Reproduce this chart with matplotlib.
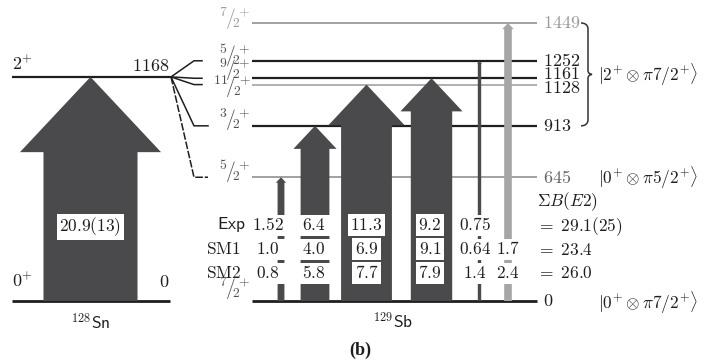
import matplotlib
matplotlib.use("Agg")
import matplotlib.pyplot as plt
from matplotlib.patches import Polygon, Rectangle, PathPatch
from matplotlib.path import Path
from matplotlib.transforms import Affine2D

plt.rcParams["mathtext.fontset"] = "cm"

# ---- level schemes (energies in keV) ----
sn_levels = [0, 1168]
sn_spins = ["0", "2"]
sn_be2 = 20.9
sn_be2_label = "20.9(13)"

sb_levels = [0, 645, 913, 1128, 1161, 1252, 1449]
sb_spins = ["7/2", "5/2", "3/2", "11/2", "9/2", "5/2", "7/2"]

# 7/2+ ground state -> excited states, B(E2) values
sb_final = [645, 913, 1128, 1161, 1252, 1449]
be2_exp = [1.52, 6.4, 11.3, 9.2, 0.75, None]
be2_sm1 = [1.0, 4.0, 6.9, 9.1, 0.64, 1.7]
be2_sm2 = [0.8, 5.8, 7.7, 7.9, 1.4, 2.4]
exp_text = ["1.52", "6.4", "11.3", "9.2", "0.75", ""]
sm1_text = ["1.0", "4.0", "6.9", "9.1", "0.64", "1.7"]
sm2_text = ["0.8", "5.8", "7.7", "7.9", "1.4", "2.4"]
row_names = ["Exp", "SM1", "SM2"]
sum_text = ["29.1(25)", "23.4", "26.0"]

W, H = 711, 363
fig = plt.figure(figsize=(W / 100, H / 100), dpi=100)
ax = fig.add_axes([0, 0, 1, 1])
ax.axis("off")

# vertical scale: keV -> pixel rows (ground state at row 301)
Y0 = 301.0
PX_PER_KEV = (301.0 - 23.0) / 1449.0
KEV_PER_PX = 1.0 / PX_PER_KEV
ax.set_xlim(0, W)
ax.set_ylim((Y0 - H) * KEV_PER_PX, Y0 * KEV_PER_PX)

# pixel-space transform for annotations
pix = Affine2D().scale(1.0 / W, -1.0 / H).translate(0, 1) + ax.transAxes

DARK = "#4a4a4c"
GREY = "#a6a6a9"
INK = "#1e1e1e"
LGREY = "#9a9a9a"
WIDTH_PER_BE2 = 4.5  # px of shaft width per W.u.


def up_arrow(xc, e_from, e_to, be2, color, z=3):
    w = WIDTH_PER_BE2 * be2
    hw = 0.75 * w
    hl = 0.8 * w * KEV_PER_PX
    pts = [(xc - w / 2, e_from), (xc - w / 2, e_to - hl), (xc - hw, e_to - hl),
           (xc, e_to), (xc + hw, e_to - hl), (xc + w / 2, e_to - hl),
           (xc + w / 2, e_from)]
    ax.add_patch(Polygon(pts, closed=True, facecolor=color, edgecolor="none",
                         zorder=z))
    return w


def T(x, y, s, **kw):
    kw.setdefault("color", INK)
    kw.setdefault("va", "center")
    return ax.text(x, y, s, transform=pix, **kw)


def spin(label):
    num, den = label.split("/")
    return r"${}^{%s}\!/\!{}_{%s}\!{}^{+}$" % (num, den)


# ---- 128Sn ----
for e in sn_levels:
    ax.plot([12, 170], [e, e], color=INK, lw=1.6 if e else 2.0,
            solid_capstyle="butt", zorder=2)
up_arrow(90.5, sn_levels[0], sn_levels[1], sn_be2, DARK)
T(90.5, 227, r"$\mathsf{%s}$" % sn_be2_label, ha="center", fontsize=12.5,
  bbox=dict(facecolor="white", edgecolor="none", pad=1.5), zorder=6)
T(12, 65, r"$%s^{+}$" % sn_spins[1], ha="left", fontsize=13)
T(169, 66, r"$\mathsf{%d}$" % sn_levels[1], ha="right", fontsize=13)
T(12, 282, r"$%s^{+}$" % sn_spins[0], ha="left", fontsize=13)
T(169, 282, r"$\mathsf{%d}$" % sn_levels[0], ha="right", fontsize=13)
T(91, 323, r"$^{128}\mathsf{Sn}$", ha="center", fontsize=12.5)

# ---- 129Sb levels ----
grey_levels = {645, 1128, 1449}
for e in sb_levels:
    if e == 0:
        c, lw = INK, 2.0
    elif e in grey_levels:
        c, lw = LGREY, 1.3 if e != 1128 else 1.1
    else:
        c, lw = INK, 1.6
    ax.plot([252, 537], [e, e], color=c, lw=lw, solid_capstyle="butt",
            zorder=2)

spin_rows = [289, 172, 120, 87, 70, 56, 19]
energy_rows = [301, 178, 126, 88, 74, 61, 23]
for e, s, ys, ye in zip(sb_levels, sb_spins, spin_rows, energy_rows):
    col = LGREY if e == 1449 else "#505050"
    T(251, ys, spin(s), ha="right", fontsize=14, color=col)
    ecol = LGREY if e == 1449 else ("#666666" if e == 645 else INK)
    T(543, ye, r"$\mathsf{%d}$" % e, ha="left", fontsize=13, color=ecol)

# ---- fan of lines from the 2+ core state to the multiplet ----
fan_ends = {1252: 202, 1161: 202, 1128: 202, 913: 208, 645: 208}
for e, xe in fan_ends.items():
    ls = (0, (5, 1.2)) if e == 645 else "-"
    ax.plot([171, 194, xe], [sn_levels[1], e, e], color=INK, lw=1.1,
            linestyle=ls, zorder=2)

# ---- transitions in 129Sb ----
arrow_x = [281, 315, 366.5, 431.5, 479.5, 508]
text_x = [268, 314, 366.5, 430, 475, 508]
row_y = [225, 249, 273]
band_half = 10.5
for i, ef in enumerate(sb_final):
    val = be2_exp[i] if be2_exp[i] is not None else be2_sm1[i]
    color = DARK if be2_exp[i] is not None else GREY
    w = up_arrow(arrow_x[i], 0, ef, val, color)
    for r, texts in enumerate([exp_text, sm1_text, sm2_text]):
        s = texts[i]
        if not s:
            continue
        if w < 35:
            # cut the arrow where the label row passes
            y1 = (Y0 - (row_y[r] + band_half)) * KEV_PER_PX
            y2 = (Y0 - (row_y[r] - band_half)) * KEV_PER_PX
            ax.add_patch(Rectangle((arrow_x[i] - w / 2 - 1.5, y1), w + 3,
                                   y2 - y1, facecolor="white",
                                   edgecolor="none", zorder=4))
            T(text_x[i], row_y[r], r"$\mathsf{%s}$" % s, ha="center",
              fontsize=12.5, zorder=6)
        else:
            T(text_x[i], row_y[r], r"$\mathsf{%s}$" % s, ha="center",
              fontsize=12.5, zorder=6,
              bbox=dict(facecolor="white", edgecolor="none", pad=1.8))

T(246, row_y[0], r"$\mathsf{%s}$" % row_names[0], ha="right", fontsize=12.5)
T(241, row_y[1], r"$\mathrm{%s}$" % row_names[1], ha="right", fontsize=12.5)
T(241, row_y[2], r"$\mathrm{%s}$" % row_names[2], ha="right", fontsize=12.5)

T(537, 202, r"$\Sigma B(E2)$", ha="left", fontsize=12.5)
for y, s in zip([227, 250, 273], sum_text):
    T(536, y, r"$=\ %s$" % s, ha="left", fontsize=12.5)

T(393, 322, r"$^{129}\mathsf{Sb}$", ha="center", fontsize=12.5)


# ---- brace around the |2+ x pi7/2+> multiplet ----
def brace(x0, e_top, e_bot, depth=7.0, tip=4.0):
    yt = Y0 - e_top * PX_PER_KEV
    yb = Y0 - e_bot * PX_PER_KEV
    ym = 0.5 * (yt + yb)
    xs = x0 + depth
    xt = xs + tip
    verts = [(x0, yt), (x0 + 4, yt), (xs, yt + 2), (xs, yt + 6),
             (xs, ym - 4),
             (xs, ym - 2), (xs + 1, ym - 0.5), (xt, ym),
             (xs + 1, ym + 0.5), (xs, ym + 2), (xs, ym + 4),
             (xs, yb - 6),
             (xs, yb - 2), (x0 + 4, yb), (x0, yb)]
    codes = [Path.MOVETO, Path.CURVE4, Path.CURVE4, Path.CURVE4,
             Path.LINETO,
             Path.CURVE4, Path.CURVE4, Path.CURVE4,
             Path.CURVE4, Path.CURVE4, Path.CURVE4,
             Path.LINETO,
             Path.CURVE4, Path.CURVE4, Path.CURVE4]
    ax.add_patch(PathPatch(Path(verts, codes), transform=pix, facecolor="none",
                           edgecolor="#333333", lw=1.1))
    return xt, ym


xt, ym = brace(581, 1449, 913)
T(598, ym, r"$|2^{+}\otimes\pi7/2^{+}\rangle$", ha="left", fontsize=12.5)
T(598, 178, r"$|0^{+}\otimes\pi5/2^{+}\rangle$", ha="left", fontsize=12.5)
T(598, 303, r"$|0^{+}\otimes\pi7/2^{+}\rangle$", ha="left", fontsize=12.5)

T(360, 350, "(b)", ha="center", fontsize=13, fontweight="bold",
  family="Liberation Serif")

fig.savefig("out.png", dpi=100)
